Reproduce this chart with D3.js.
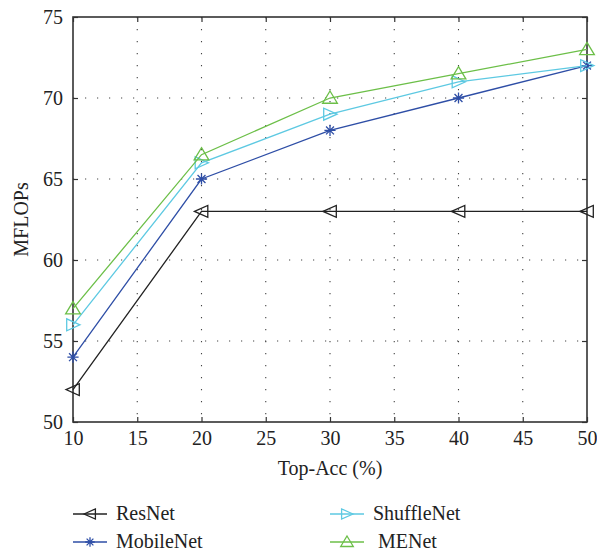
<!DOCTYPE html>
<html><head><meta charset="utf-8">
<script src="https://cdn.jsdelivr.net/npm/d3@7"></script>
<style>body{margin:0;background:#fff}svg{display:block}text{font-family:"Liberation Serif","DejaVu Serif",serif;fill:#222}</style>
</head><body><svg id="c" width="597" height="556"></svg>
<script>
const xValues = [10, 20, 30, 40, 50];
const seriesNames = ["ResNet", "MobileNet", "ShuffleNet", "MENet"];
const resnet = [52, 63, 63, 63, 63];
const mobilenet = [54, 65, 68, 70, 72];
const shufflenet = [56, 66, 69, 71, 72];
const menet = [57, 66.5, 70, 71.5, 73];
const xTicks = [10, 15, 20, 25, 30, 35, 40, 45, 50];
const yTicks = [50, 55, 60, 65, 70, 75];
const colors = ["#222222", "#2e4ea6", "#5dc9e2", "#6cbf48"];
const markers = ["left", "star", "right", "up"];

const series = [resnet, mobilenet, shufflenet, menet].map((v, i) => ({name: seriesNames[i], values: v, color: colors[i], marker: markers[i]}));

const svg = d3.select("#c");
const L = 73, R = 587, T = 17, B = 422;
const x = d3.scaleLinear().domain([10, 50]).range([L, R]);
const y = d3.scaleLinear().domain([50, 75]).range([B, T]);

// grid
const g = svg.append("g");
g.selectAll(".gx").data(xTicks.slice(1, -1)).join("line")
  .attr("x1", d => x(d)).attr("x2", d => x(d)).attr("y1", T).attr("y2", B)
  .attr("stroke", "#444").attr("stroke-width", 1.1).attr("stroke-dasharray", "1.2,10.8");
g.selectAll(".gy").data(yTicks.slice(1, -1)).join("line")
  .attr("y1", d => y(d)).attr("y2", d => y(d)).attr("x1", L).attr("x2", R)
  .attr("stroke", "#444").attr("stroke-width", 1.1).attr("stroke-dasharray", "1.2,10.8");

// axes
const ax = d3.axisBottom(x).tickValues(xTicks).tickSize(-5).tickPadding(9);
const ay = d3.axisLeft(y).tickValues(yTicks).tickSize(-5).tickPadding(10);
const axTop = d3.axisTop(x).tickValues(xTicks).tickSize(-5).tickFormat("");
const ayRight = d3.axisRight(y).tickValues(yTicks).tickSize(-5).tickFormat("");
function style(sel){
  sel.select(".domain").remove();
  sel.selectAll(".tick line").attr("stroke", "#333").attr("stroke-width", 1.2);
  sel.selectAll(".tick text").attr("font-size", 20).attr("fill", "#222").attr("font-family", "Liberation Serif, DejaVu Serif, serif");
}
svg.append("g").attr("transform", `translate(0,${B})`).call(ax).call(style);
svg.append("g").attr("transform", `translate(${L},0)`).call(ay).call(style);
svg.append("g").attr("transform", `translate(0,${T})`).call(axTop).call(style);
svg.append("g").attr("transform", `translate(${R},0)`).call(ayRight).call(style);
svg.append("rect").attr("x", L).attr("y", T).attr("width", R - L).attr("height", B - T)
  .attr("fill", "none").attr("stroke", "#333").attr("stroke-width", 1.6);

// markers
function markerPath(type, s) {
  if (type === "left") return `M${-s},0 L${s*0.9},${-s*0.85} L${s*0.9},${s*0.85} Z`;
  if (type === "right") return `M${s},0 L${-s*0.9},${-s*0.85} L${-s*0.9},${s*0.85} Z`;
  if (type === "up") return `M0,${-s} L${s*1.05},${s*0.75} L${-s*1.05},${s*0.75} Z`;
  const r = s * 0.8, d = r * 0.707;
  return `M${-r},0 L${r},0 M0,${-r} L0,${r} M${-d},${-d} L${d},${d} M${-d},${d} L${d},${-d}`;
}

const line = d3.line().x((d, i) => x(xValues[i])).y(d => y(d));
series.forEach(s => {
  svg.append("path").datum(s.values).attr("d", line)
    .attr("fill", "none").attr("stroke", s.color).attr("stroke-width", 1.3);
  svg.selectAll(null).data(s.values).join("path")
    .attr("transform", (d, i) => `translate(${x(xValues[i])},${y(d)})`)
    .attr("d", markerPath(s.marker, 7))
    .attr("fill", "none").attr("stroke", s.color).attr("stroke-width", 1.3);
});

// axis titles
svg.append("text").attr("x", (L + R) / 2).attr("y", 475).attr("text-anchor", "middle")
  .attr("font-size", 20).text("Top-Acc (%)");
svg.append("text").attr("transform", `translate(28,${(T + B) / 2}) rotate(-90)`)
  .attr("text-anchor", "middle").attr("font-size", 20).text("MFLOPs");

// legend
const legPos = [[73, 514], [73, 542], [330, 514], [330, 542]];
series.forEach((s, i) => {
  const [lx, ly] = legPos[i];
  svg.append("line").attr("x1", lx).attr("x2", lx + 34).attr("y1", ly).attr("y2", ly)
    .attr("stroke", s.color).attr("stroke-width", 1.3);
  svg.append("path").attr("transform", `translate(${lx + 17},${ly})`)
    .attr("d", markerPath(s.marker, 6)).attr("fill", "none").attr("stroke", s.color).attr("stroke-width", 1.3);
  svg.append("text").attr("x", lx + (i === 3 ? 48 : 43)).attr("y", ly + 6).attr("font-size", 20).text(s.name);
});
</script></body></html>
